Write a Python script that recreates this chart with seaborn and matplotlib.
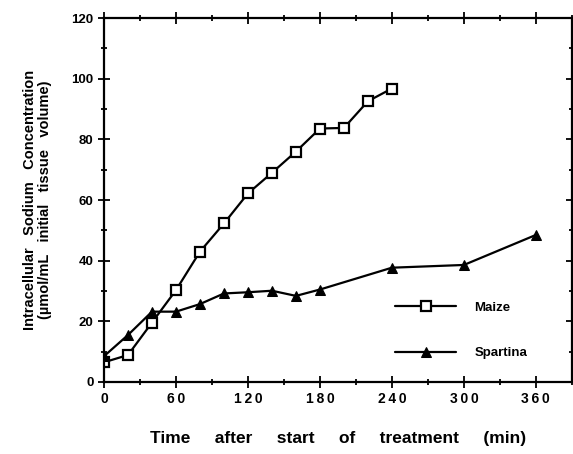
import numpy as np
import pandas as pd
import matplotlib
matplotlib.use('Agg')
import matplotlib.pyplot as plt
import seaborn as sns
from matplotlib.ticker import MultipleLocator

# data
maize_time = [0, 20, 40, 60, 80, 100, 120, 140, 160, 180, 200, 220, 240]
maize_na = [6.5, 8.9, 19.6, 30.3, 43.0, 52.3, 62.2, 69.0, 76.0, 83.6, 83.8, 92.6, 96.8]
spartina_time = [0, 20, 40, 60, 80, 100, 120, 140, 160, 180, 240, 300, 360]
spartina_na = [8.5, 15.5, 23.2, 23.2, 25.7, 29.2, 29.6, 30.1, 28.4, 30.5, 37.7, 38.6, 48.5]

x_ticks = [0, 60, 120, 180, 240, 300, 360]
y_ticks = [0, 20, 40, 60, 80, 100, 120]

maize = pd.DataFrame({'time': maize_time, 'na': maize_na})
spartina = pd.DataFrame({'time': spartina_time, 'na': spartina_na})

sns.set_style('ticks')
plt.rcParams['font.family'] = ['Liberation Sans', 'DejaVu Sans']
plt.rcParams['font.weight'] = 'bold'
plt.rcParams['text.color'] = 'black'
plt.rcParams['axes.labelcolor'] = 'black'

fig = plt.figure(figsize=(5.73, 4.54), dpi=100)
ax = fig.add_axes([0.1815, 0.1586, 0.8165, 0.8014])

sns.lineplot(data=maize, x='time', y='na', ax=ax, color='black', lw=1.6,
             marker='s', markersize=7, markerfacecolor='white',
             markeredgecolor='black', markeredgewidth=1.6, label='Maize')
sns.lineplot(data=spartina, x='time', y='na', ax=ax, color='black', lw=1.6,
             marker='^', markersize=7.5, markerfacecolor='black',
             markeredgecolor='black', label='Spartina')

ax.set_xlim(0, 390)
ax.set_ylim(0, 120)
ax.set_xticks(x_ticks)
ax.set_xticklabels(['\u2009'.join(str(t)) for t in x_ticks])
ax.set_yticks(y_ticks)
ax.xaxis.set_minor_locator(MultipleLocator(30))
ax.yaxis.set_minor_locator(MultipleLocator(10))
ax.tick_params(which='both', direction='inout', top=True, right=True,
               width=1.3, labelsize=10, colors='black')
ax.tick_params(axis='y', labelsize=9.5)
ax.tick_params(which='major', length=8)
ax.tick_params(which='minor', length=5)
for s in ax.spines.values():
    s.set_linewidth(1.6)
    s.set_color('black')

ax.set_xlabel('Time     after     start     of     treatment     (min)',
              fontsize=12.5, fontweight='bold', labelpad=18)
ax.set_ylabel('Intracellular   Sodium   Concentration\n(\u00b5mol/mL   initial   tissue   volume)',
              fontsize=10.5, fontweight='bold', labelpad=14, linespacing=1.05)

ax.legend(loc='lower right', bbox_to_anchor=(0.93, 0.03), frameon=False,
          handlelength=4.6, labelspacing=2.5, fontsize=9.5, handletextpad=1.4)

fig.savefig('out.png', dpi=100)
